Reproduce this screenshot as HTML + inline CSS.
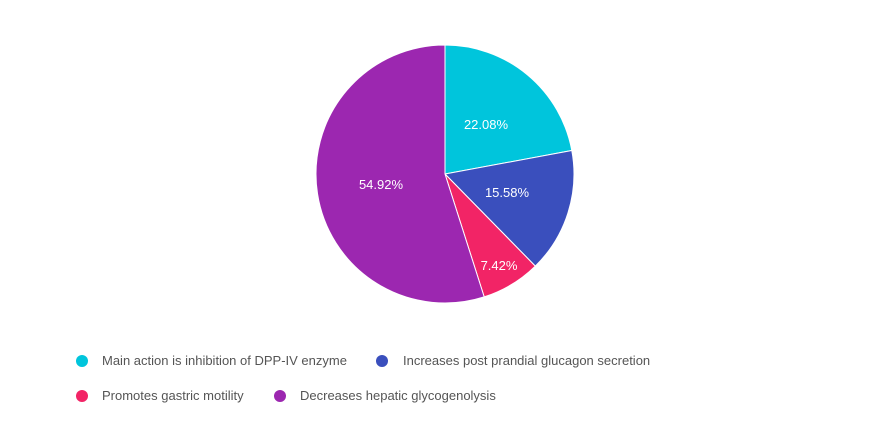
<!DOCTYPE html>
<html><head><style>
body{margin:0;background:#fff;width:871px;height:443px;overflow:hidden;font-family:"Liberation Sans",sans-serif}
</style></head><body>
<svg width="871" height="443" xmlns="http://www.w3.org/2000/svg">
<g stroke="#fff" stroke-width="1">
<path d="M445,174 L445,45 A129,129 0 0 1 571.8,150.5 Z" fill="#00c5dc"/>
<path d="M445,174 L571.8,150.5 A129,129 0 0 1 535.3,266.1 Z" fill="#3a4fbd"/>
<path d="M445,174 L535.3,266.1 A129,129 0 0 1 484.2,296.9 Z" fill="#f22466"/>
<path d="M445,174 L484.2,296.9 A129,129 0 1 1 445,45 Z" fill="#9c27b0"/>
</g>
<g fill="#fff" font-size="13" text-anchor="middle">
<text x="486" y="129">22.08%</text>
<text x="507" y="197">15.58%</text>
<text x="499" y="270">7.42%</text>
<text x="381" y="189">54.92%</text>
</g>
<g font-size="13" fill="#555">
<circle cx="82" cy="361" r="6" fill="#00c5dc"/><text x="102" y="365">Main action is inhibition of DPP-IV enzyme</text>
<circle cx="382" cy="361" r="6" fill="#3a4fbd"/><text x="403" y="365">Increases post prandial glucagon secretion</text>
<circle cx="82" cy="396" r="6" fill="#f22466"/><text x="102" y="400">Promotes gastric motility</text>
<circle cx="280" cy="396" r="6" fill="#9c27b0"/><text x="300" y="400">Decreases hepatic glycogenolysis</text>
</g>
</svg>
</body></html>
